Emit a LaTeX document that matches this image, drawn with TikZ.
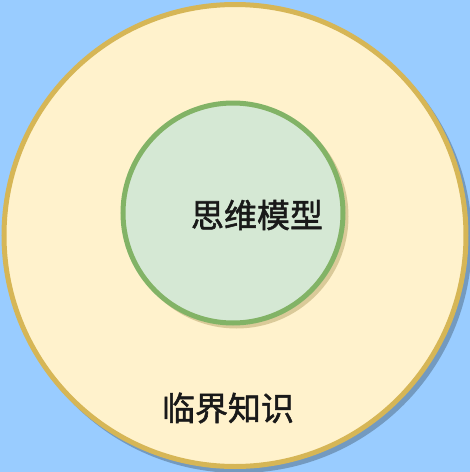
\documentclass[tikz,border=0pt]{standalone}
\usepackage{fontspec}
\newfontfamily\cjk{Noto Sans CJK SC}[FakeBold=1.6]
\definecolor{bgblue}{HTML}{99CCFF}
\definecolor{ringfill}{HTML}{FFF2CC}
\definecolor{ringdraw}{HTML}{D6B656}
\definecolor{corefill}{HTML}{D5E8D4}
\definecolor{coredraw}{HTML}{82B366}
\begin{document}
\begin{tikzpicture}[x=1pt,y=-1pt,
  ring/.style={circle, minimum size=462pt, inner sep=0pt, fill=ringfill, draw=ringdraw, line width=5pt},
  core/.style={circle, minimum size=220pt, inner sep=0pt, fill=corefill, draw=coredraw, line width=5pt},
  lbl/.style={font=\cjk\fontsize{33}{36}\selectfont, text=black!90, inner sep=0pt}]
\fill[bgblue] (0,0) rectangle (470,472);
\useasboundingbox (0,0) rectangle (470,472);
\fill[black!35!bgblue, opacity=0.7] (239,240) circle (233);
\node[ring] (outer) at (235,235.5) {};
\fill[black!30!ringdraw, opacity=0.35] (236.5,216.5) circle (112);
\node[core] (inner) at (233,213) {};
\node[lbl] (t1) at (257,215) {思维模型};
\node[lbl] (t2) at (228,408) {临界知识};
\end{tikzpicture}
\end{document}
